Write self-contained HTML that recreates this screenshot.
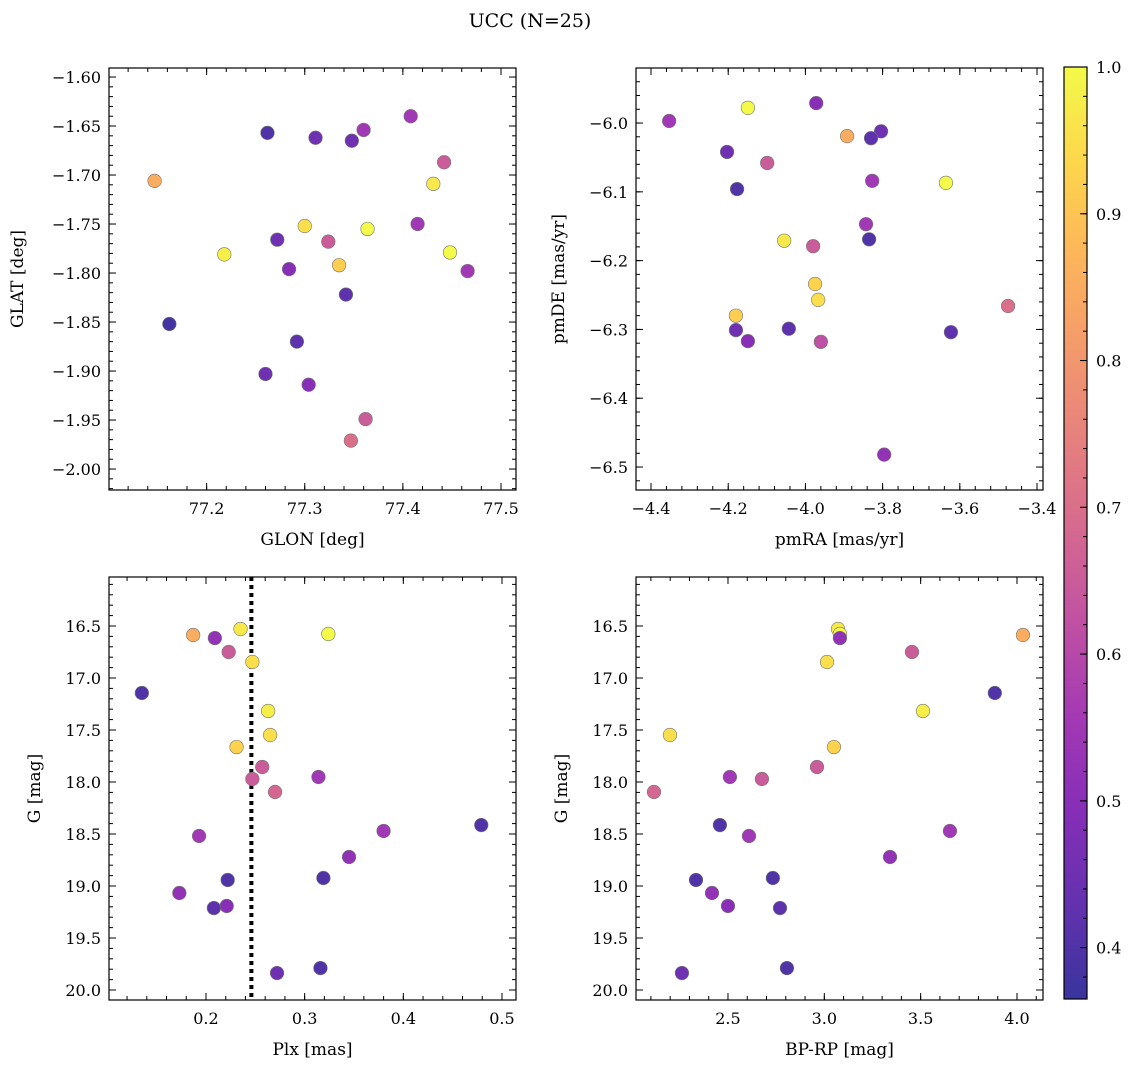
<!DOCTYPE html>
<html><head><meta charset="utf-8"><style>
body{margin:0;background:#fff;}
svg text{font-family:"DejaVu Serif","Liberation Serif",serif;fill:#000;}
</style></head><body>
<svg id="chart" width="1136" height="1067" xmlns="http://www.w3.org/2000/svg">
<text x="530" y="27" font-size="19" text-anchor="middle">UCC (N=25)</text>
</svg>
<script>
// Top-left: GLON / GLAT
const tlGlon=[77.262,77.311,77.348,77.360,77.408,77.442,77.147,77.431,77.300,77.364,77.218,77.272,77.324,77.415,77.448,77.466,77.284,77.335,77.342,77.162,77.292,77.260,77.304,77.362,77.347];
const tlGlat=[-1.657,-1.662,-1.665,-1.654,-1.640,-1.687,-1.706,-1.709,-1.752,-1.755,-1.781,-1.766,-1.768,-1.750,-1.779,-1.798,-1.796,-1.792,-1.822,-1.852,-1.870,-1.903,-1.914,-1.949,-1.971];
const tlProb=[0.40,0.45,0.45,0.55,0.55,0.65,0.85,0.97,0.95,1.0,0.98,0.45,0.65,0.55,1.0,0.55,0.50,0.92,0.42,0.38,0.42,0.45,0.50,0.65,0.70];
// Top-right: pmRA / pmDE
const trPmra=[-4.353,-4.149,-3.972,-3.892,-3.804,-3.830,-4.203,-4.099,-4.177,-3.827,-3.636,-3.843,-3.835,-4.055,-3.980,-3.975,-3.967,-4.180,-4.180,-4.149,-4.043,-3.960,-3.623,-3.475,-3.796];
const trPmde=[-5.997,-5.978,-5.971,-6.019,-6.012,-6.022,-6.042,-6.058,-6.096,-6.084,-6.087,-6.147,-6.169,-6.171,-6.179,-6.234,-6.257,-6.280,-6.301,-6.317,-6.299,-6.318,-6.304,-6.266,-6.482];
const trProb=[0.55,1.0,0.50,0.85,0.45,0.42,0.45,0.65,0.40,0.55,1.0,0.55,0.40,0.97,0.65,0.93,0.95,0.92,0.45,0.50,0.42,0.62,0.42,0.70,0.52];
// Bottom: Plx, G, BP-RP
const bPlx=[0.187,0.235,0.324,0.209,0.223,0.247,0.135,0.263,0.265,0.231,0.257,0.314,0.247,0.270,0.380,0.479,0.193,0.345,0.222,0.319,0.173,0.221,0.208,0.316,0.272];
const bG=[16.587,16.529,16.577,16.616,16.750,16.846,17.144,17.317,17.548,17.664,17.856,17.952,17.971,18.096,18.471,18.414,18.519,18.721,18.942,18.923,19.067,19.192,19.212,19.789,19.837];
const bBprp=[4.031,3.071,3.081,3.081,3.455,3.014,3.885,3.512,2.199,3.050,2.962,2.510,2.676,2.116,3.652,2.458,2.609,3.341,2.334,2.733,2.417,2.500,2.770,2.806,2.261];
const bProb=[0.85,0.97,1.0,0.52,0.65,0.95,0.40,0.98,0.95,0.93,0.65,0.55,0.65,0.68,0.55,0.40,0.55,0.52,0.40,0.40,0.52,0.50,0.42,0.40,0.45];
const plxLine=0.246;
const cbMin=0.365, cbMax=1.0;
const cbTicks=[0.4,0.5,0.6,0.7,0.8,0.9,1.0];

const NS="http://www.w3.org/2000/svg";
const svg=document.getElementById('chart');
function mk(tag,attrs,parent){const e=document.createElementNS(NS,tag);for(const k in attrs)e.setAttribute(k,attrs[k]);(parent||svg).appendChild(e);return e;}
const stops=["#0d0887","#41049d","#6a00a8","#8f0da4","#b12a90","#cc4778","#e16462","#f2844b","#fca636","#fcce25","#f0f921"];
function hex(h){return [parseInt(h.substr(1,2),16),parseInt(h.substr(3,2),16),parseInt(h.substr(5,2),16)];}
function plasma(t){t=Math.max(0,Math.min(1,t));const f=t*10,i=Math.min(9,Math.floor(f)),r=f-i;const a=hex(stops[i]),b=hex(stops[i+1]);
 const c=a.map((v,k)=>Math.round((v+(b[k]-v)*r)*0.82+255*0.18));return `rgb(${c[0]},${c[1]},${c[2]})`;}
function col(p){return plasma((p-cbMin)/(cbMax-cbMin));}
function fmt(v,d){return (v<0?"\u2212":"")+Math.abs(v).toFixed(d);}

function panel(o){
 const g=mk('g',{});
 
 
 const {x0,x1,y0,y1,xd,yd}=o;
 const sx=v=>x0+(v-xd[0])/(xd[1]-xd[0])*(x1-x0);
 const sy=v=>y0+(v-yd[0])/(yd[1]-yd[0])*(y1-y0);
 function ticks(step,dom){const a=[];const s=Math.ceil(Math.min(dom[0],dom[1])/step-1e-6);const e=Math.floor(Math.max(dom[0],dom[1])/step+1e-6);for(let i=s;i<=e;i++)a.push(+(i*step).toFixed(6));return a.filter(v=>v>=Math.min(dom[0],dom[1])&&v<=Math.max(dom[0],dom[1]));}
 ticks(o.xminor,xd).forEach(v=>{const x=sx(v);mk('line',{x1:x,x2:x,y1:y1,y2:y1-4,stroke:'#000','stroke-width':1},g);mk('line',{x1:x,x2:x,y1:y0,y2:y0+4,stroke:'#000','stroke-width':1},g);});
 ticks(o.yminor,yd).forEach(v=>{const y=sy(v);mk('line',{x1:x0,x2:x0+4,y1:y,y2:y,stroke:'#000','stroke-width':1},g);mk('line',{x1:x1,x2:x1-4,y1:y,y2:y,stroke:'#000','stroke-width':1},g);});
 ticks(o.xmajor,xd).forEach(v=>{const x=sx(v);mk('line',{x1:x,x2:x,y1:y1,y2:y1-7,stroke:'#000','stroke-width':1},g);mk('line',{x1:x,x2:x,y1:y0,y2:y0+7,stroke:'#000','stroke-width':1},g);
  const t=mk('text',{x:x,y:y1+24,'font-size':16,'text-anchor':'middle'},g);t.textContent=fmt(v,o.xdec);
  
  });
 ticks(o.ymajor,yd).forEach(v=>{const y=sy(v);mk('line',{x1:x0,x2:x0+7,y1:y,y2:y,stroke:'#000','stroke-width':1},g);mk('line',{x1:x1,x2:x1-7,y1:y,y2:y,stroke:'#000','stroke-width':1},g);
  const t=mk('text',{x:x0-8,y:y+6,'font-size':16,'text-anchor':'end'},g);t.textContent=fmt(v,o.ydec);
  
  });
 if(o.vline!==undefined){const l=mk('line',{x1:sx(o.vline),x2:sx(o.vline),y1:y0,y2:y1,stroke:'#000','stroke-width':4,'stroke-dasharray':'4,4'},g);
  
  }
 o.xs.forEach((v,i)=>{const c=mk('circle',{cx:sx(v),cy:sy(o.ys[i]),r:6.8,fill:col(o.ps[i]),stroke:'#777','stroke-width':0.6},g);
  
  });
 mk('rect',{x:x0,y:y0,width:x1-x0,height:y1-y0,fill:'none',stroke:'#000','stroke-width':1.2},g);
 const xl=mk('text',{x:(x0+x1)/2,y:y1+55,'font-size':17,'text-anchor':'middle'},g);xl.textContent=o.xlabel;
 
 
 const yl=mk('text',{x:0,y:0,'font-size':17,'text-anchor':'middle',transform:`translate(${o.ylx},${(y0+y1)/2}) rotate(-90)`},g);yl.textContent=o.ylabel;
 
 
}
panel({name:'glon-glat-panel',x0:109,x1:516,y0:68,y1:490,xd:[77.1005,77.5153],yd:[-1.5908,-2.0214],xmajor:0.1,xminor:0.02,ymajor:0.05,yminor:0.01,xdec:1,ydec:2,xs:tlGlon,ys:tlGlat,ps:tlProb,xlabel:'GLON [deg]',ylabel:'GLAT [deg]',ylx:23});
panel({name:'pm-panel',x0:636,x1:1043,y0:68,y1:490,xd:[-4.4389,-3.3845],yd:[-5.920,-6.5334],xmajor:0.2,xminor:0.04,ymajor:0.1,yminor:0.02,xdec:1,ydec:1,xs:trPmra,ys:trPmde,ps:trProb,xlabel:'pmRA [mas/yr]',ylabel:'pmDE [mas/yr]',ylx:564});
panel({name:'plx-g-panel',x0:109,x1:516,y0:577,y1:1000,xd:[0.1017,0.5142],yd:[16.029,20.096],xmajor:0.1,xminor:0.02,ymajor:0.5,yminor:0.1,xdec:1,ydec:1,xs:bPlx,ys:bG,ps:bProb,xlabel:'Plx [mas]',ylabel:'G [mag]',ylx:40,vline:plxLine});
panel({name:'cmd-panel',x0:636,x1:1043,y0:577,y1:1000,xd:[2.0226,4.135],yd:[16.029,20.096],xmajor:0.5,xminor:0.1,ymajor:0.5,yminor:0.1,xdec:1,ydec:1,xs:bBprp,ys:bG,ps:bProb,xlabel:'BP-RP [mag]',ylabel:'G [mag]',ylx:567});
// colorbar
const cb=mk('g',{});


const cx0=1064,cx1=1087,cy0=67,cy1=999;
const defs=mk('defs',{},cb);const grad=mk('linearGradient',{id:'pg',x1:0,y1:1,x2:0,y2:0},defs);
for(let i=0;i<=20;i++){mk('stop',{offset:i/20,'stop-color':plasma(i/20)},grad);}
mk('rect',{x:cx0,y:cy0,width:cx1-cx0,height:cy1-cy0,fill:'url(#pg)',stroke:'#000','stroke-width':1.2},cb);
const cy=v=>cy1-(v-cbMin)/(cbMax-cbMin)*(cy1-cy0);
for(let v=0.38;v<=1.0001;v+=0.02){mk('line',{x1:cx1,x2:cx1-4,y1:cy(v),y2:cy(v),stroke:'#000','stroke-width':1},cb);}
cbTicks.forEach(v=>{mk('line',{x1:cx1,x2:cx1-7,y1:cy(v),y2:cy(v),stroke:'#000','stroke-width':1},cb);
 const t=mk('text',{x:cx1+9,y:cy(v)+6,'font-size':16},cb);t.textContent=v.toFixed(1);
 
 });
</script>
</body></html>
